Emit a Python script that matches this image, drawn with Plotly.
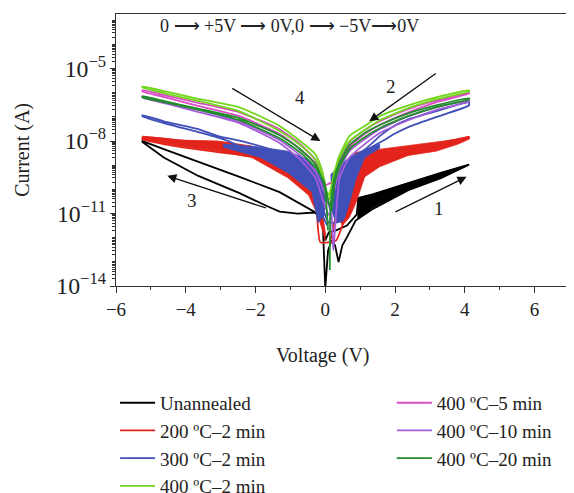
import plotly.graph_objects as go

SERIF = "Liberation Serif"

# ---------------- data (voltage in V, current in A) ----------------
UNANN_V = [0, 0.08, 0.18, 0.28, 0.38, 0.49, 0.62, 0.87, 1.38, 2.38, 3.33, 4.12,
           3.33, 2.38, 1.38, 0.95, 0.90, 0.62, 0.31, 0.10, 0,
           -0.10, -0.31, -0.79, -1.31, -1.66, -2.46, -3.64, -4.63, -5.24,
           -5.24, -4.63, -3.64, -2.46, -1.31, -0.72, -0.28, -0.07, 0]
UNANN_I = [8e-15, 3.0e-13, 7.7e-13, 4.8e-13, 9.8e-14, 4.8e-13, 1.03e-12, 5.1e-12, 1.6e-11, 9.3e-11, 3.0e-10, 1.07e-9,
           4.9e-10, 1.8e-10, 6.4e-11, 4.4e-11, 9.1e-12, 3.2e-12, 2.0e-12, 1.66e-12, 7.7e-13,
           6.9e-12, 1.1e-11, 1.0e-11, 1.2e-11, 2.0e-11, 7.0e-11, 3.6e-10, 2.1e-9, 9.1e-9,
           1.0e-8, 4.6e-9, 1.4e-9, 3.3e-10, 7.7e-11, 2.6e-11, 1.1e-11, 3.2e-12, 8e-15]
UNANN_BAND_V = [0.92, 1.38, 2.38, 3.33, 4.12, 4.12, 3.33, 2.38, 1.38, 0.92]
UNANN_BAND_I = [4.4e-11, 6.4e-11, 1.85e-10, 4.9e-10, 1.07e-9, 1.0e-9, 3.0e-10, 9.3e-11, 1.8e-11, 5.7e-12]

T200_V = [0.15, 0.31, 0.49, 0.69, 1.0, 1.56, 2.38, 3.17, 4.12,
          4.12, 3.17, 2.38, 1.56, 1.13, 0.87, 0.69, 0.49, 0.31,
          -0.14, -0.28, -0.55, -1.07, -2.0, -3.71, -4.63, -5.24,
          -5.24, -3.71, -2.11, -1.31, -0.72, -0.28, -0.10, 0]
T200_I = [7.7e-13, 8.3e-12, 5.8e-11, 2.5e-10, 9.6e-10, 2.3e-9, 4.6e-9, 7.5e-9, 1.45e-8,
          1.3e-8, 5.6e-9, 3.1e-9, 1.3e-9, 4.0e-10, 5.8e-11, 2.2e-11, 3.2e-12, 7.7e-13,
          6.4e-13, 3.6e-11, 1.5e-10, 5.4e-10, 2.1e-9, 4.6e-9, 7.5e-9, 1.2e-8,
          1.45e-8, 9.1e-9, 5.6e-9, 2.1e-9, 6.6e-10, 9.3e-11, 8.3e-12, 1.3e-12]
T200_BAND_R_V = [0.41, 0.87, 1.13, 1.56, 2.38, 3.17, 3.81, 4.12, 4.12, 3.81, 3.17, 2.38, 1.56, 1.13, 0.87, 0.69, 0.49, 0.36]
T200_BAND_R_I = [2.5e-10, 3.4e-9, 3.8e-9, 4.6e-9, 6.2e-9, 9.1e-9, 1.2e-8, 1.6e-8, 1.2e-8, 7.5e-9, 3.8e-9, 2.55e-9, 8.7e-10, 3.3e-10, 2.6e-11, 6.9e-12, 3.2e-12, 8.3e-12]
T200_BAND_L_V = [-5.24, -4.18, -3.07, -2.11, -1.07, -0.38, -0.14, 0, -0.21, -0.48, -1.07, -2.11, -3.07, -4.18, -5.24]
T200_BAND_L_I = [1.6e-8, 1.1e-8, 1.0e-8, 6.2e-9, 2.8e-9, 6.6e-10, 9.3e-11, 7.7e-13, 8.3e-12, 5.8e-11, 3.0e-10, 2.1e-9, 3.8e-9, 6.2e-9, 1.1e-8]

T300_V = [0.36, 0.54, 0.74, 1.0, 1.38, 1.56, 1.97, 2.38, 3.17, 4.12,
          4.12, 3.17, 2.38, 1.97, 1.64, 1.38, 1.0, 0.74, 0.49,
          0.10, -0.14, -0.38, -0.90, -1.59, -2.29, -3.07, -3.64, -4.63, -5.24,
          -5.24, -4.63, -3.64, -2.93, -2.46, -1.86, -1.07, -0.38, -0.14, 0.05]
T300_I = [5.1e-12, 3.6e-11, 4.0e-10, 2.8e-9, 9.1e-9, 1.6e-8, 4.2e-8, 8.0e-8, 1.7e-7, 4.0e-7,
          3.0e-7, 9.8e-8, 3.8e-8, 1.95e-8, 1.0e-8, 6.2e-9, 1.7e-9, 9.3e-11, 5.1e-12,
          4.2e-12, 3.6e-11, 2.5e-10, 1.7e-9, 4.6e-9, 9.1e-9, 1.6e-8, 3.1e-8, 6.6e-8, 1.17e-7,
          1.07e-7, 5.5e-8, 2.35e-8, 1.2e-8, 6.2e-9, 2.55e-9, 6.6e-10, 1.1e-10, 1.35e-11, 3.2e-12]
T300_BAND_R_V = [0.15, 0.36, 0.69, 1.13, 1.56, 1.56, 1.13, 0.87, 0.69, 0.54, 0.31, 0.18]
T300_BAND_R_I = [4.0e-10, 8.0e-10, 2.1e-9, 4.6e-9, 7.5e-9, 5.1e-9, 2.1e-9, 2.5e-10, 2.6e-11, 6.2e-12, 4.2e-12, 1.35e-11]
T300_BAND_L_V = [-2.93, -1.86, -1.07, -0.48, -0.14, 0, -0.03, -0.21, -0.38, -1.07, -1.86, -2.93]
T300_BAND_L_I = [7.5e-9, 5.6e-9, 3.8e-9, 1.7e-9, 3.3e-10, 9.3e-11, 8.3e-12, 4.2e-12, 7.7e-11, 4.9e-10, 2.1e-9, 5.6e-9]

T400_10_V = [0.26, 0.41, 0.69, 1.13, 1.56, 2.38, 3.17, 4.12,
             4.12, 3.17, 2.38, 1.56, 1.13, 0.69, 0.41, 0.23,
             0.18, -0.03, -0.28, -0.72, -1.31, -2.46, -3.71, -4.58, -5.24,
             -5.24, -4.58, -3.71, -2.46, -1.31, -0.72, -0.28, -0.07, 0.10]
T400_10_I = [9.3e-11, 6.6e-10, 3.8e-9, 1.2e-8, 3.1e-8, 1.07e-7, 2.5e-7, 4.8e-7,
             4.4e-7, 1.9e-7, 7.3e-8, 2.15e-8, 7.5e-9, 2.1e-9, 3.0e-10, 3.0e-13,
             8.3e-12, 7.7e-11, 5.4e-10, 2.55e-9, 1.1e-8, 6.6e-8, 2.1e-7, 4.0e-7, 7.1e-7,
             6.4e-7, 3.6e-7, 1.7e-7, 5.5e-8, 8.3e-9, 1.7e-9, 3.0e-10, 3.6e-11, 8.3e-12]

T400_5_V = [0.26, 0.41, 0.69, 1.13, 1.56, 2.38, 3.17, 4.12,
            4.12, 3.17, 2.38, 1.56, 1.13, 0.69, 0.41, 0.28,
            0, -0.10, -0.28, -0.72, -1.31, -2.46, -3.71, -4.58, -5.24,
            -5.24, -4.58, -3.71, -2.46, -1.31, -0.72, -0.28, -0.07, 0.03]
T400_5_I = [3.0e-10, 1.7e-9, 9.1e-9, 2.85e-8, 6.6e-8, 2.1e-7, 4.8e-7, 1.0e-6,
            9.3e-7, 4.0e-7, 1.55e-7, 4.6e-8, 1.95e-8, 5.6e-9, 1.07e-9, 2.5e-10,
            1.5e-10, 3.6e-10, 1.2e-9, 4.6e-9, 1.95e-8, 1.07e-7, 3.0e-7, 6.4e-7, 1.13e-6,
            1.25e-6, 7.7e-7, 4.0e-7, 1.55e-7, 3.1e-8, 7.5e-9, 1.7e-9, 4.0e-10, 5.8e-11]

T400_2_V = [0.10, 0.18, 0.26, 0.36, 0.49, 0.69, 1.13, 1.56, 2.38, 3.17, 4.12,
            4.12, 3.17, 2.38, 1.56, 1.13, 0.69, 0.41, 0.26, 0.15,
            0.08, -0.07, -0.28, -0.72, -1.31, -2.46, -3.71, -4.58, -5.24,
            -5.24, -4.58, -3.71, -2.46, -1.31, -0.72, -0.28, -0.10, 0]
T400_2_I = [3.6e-11, 9.3e-11, 4.0e-10, 1.7e-9, 4.6e-9, 1.6e-8, 4.2e-8, 1.07e-7, 3.0e-7, 6.4e-7, 1.25e-6,
            1.13e-6, 5.3e-7, 2.3e-7, 7.3e-8, 2.85e-8, 1.0e-8, 2.1e-9, 5.4e-10, 9.3e-11,
            5.8e-11, 3.0e-10, 1.7e-9, 6.8e-9, 2.6e-8, 1.7e-7, 4.8e-7, 9.3e-7, 1.65e-6,
            1.8e-6, 1.13e-6, 5.9e-7, 2.5e-7, 4.2e-8, 1.0e-8, 2.8e-9, 6.6e-10, 1.5e-10]

T400_20_V = [0.13, 0.15, 0.26, 0.41, 0.69, 1.13, 1.56, 2.38, 3.17, 4.12,
             4.12, 3.17, 2.38, 1.56, 1.13, 0.69, 0.41, 0.26, 0.18,
             0.08, -0.03, -0.28, -0.72, -1.31, -2.46, -3.71, -4.58, -5.24,
             -5.24, -4.58, -3.71, -2.46, -1.31, -0.72, -0.28, -0.03, 0.08]
T400_20_I = [4.6e-14, 2.2e-11, 3.0e-10, 1.3e-9, 6.8e-9, 2.15e-8, 4.6e-8, 1.4e-7, 3.0e-7, 5.9e-7,
             5.3e-7, 2.5e-7, 1.07e-7, 3.4e-8, 1.45e-8, 4.6e-9, 8.7e-10, 1.5e-10, 1.35e-11,
             3.6e-11, 2.0e-10, 8.0e-10, 3.4e-9, 1.3e-8, 7.3e-8, 2.1e-7, 4.0e-7, 6.4e-7,
             7.1e-7, 4.4e-7, 2.3e-7, 8.9e-8, 1.75e-8, 4.6e-9, 1.07e-9, 1.5e-10, 2.0e-12]

# sweep-direction arrows: (head V, head log10 I, tail V, tail log10 I)
ARROW_LABELS = ["1", "2", "3", "4"]
ARROW_HEAD_V = [4.05, 1.26, -4.53, -0.14]
ARROW_HEAD_LOGI = [-9.48, -7.18, -9.44, -8.0]
ARROW_TAIL_V = [1.97, 3.21, -1.66, -2.71]
ARROW_TAIL_LOGI = [-10.96, -5.16, -10.79, -5.78]
LABEL_V = [3.26, 1.87, -3.82, -0.72]
LABEL_LOGI = [-10.79, -5.74, -10.45, -6.19]

X_TICKS = [-6, -4, -2, 0, 2, 4, 6]

# ---------------- figure ----------------
fig = go.Figure()

def add_series(name, v, i, color, legend, rank, bands=(), smooth=True):
    for bv, bi in bands:
        fig.add_trace(go.Scatter(x=bv, y=bi, mode="lines", fill="toself",
                                 line=dict(color=color, width=0.8), fillcolor=color,
                                 showlegend=False, hoverinfo="skip"))
    line = dict(color=color, width=1.8)
    if smooth:
        line.update(shape="spline", smoothing=0.5)
    fig.add_trace(go.Scatter(x=v, y=i, mode="lines", name=name, line=line,
                             legend=legend, legendgroup=name, legendrank=rank))

add_series("Unannealed", UNANN_V, UNANN_I, "#000000", "legend", 1,
           [(UNANN_BAND_V, UNANN_BAND_I)], smooth=False)
add_series("200 ºC–2 min", T200_V, T200_I, "#e3241c", "legend", 2,
           [(T200_BAND_R_V, T200_BAND_R_I), (T200_BAND_L_V, T200_BAND_L_I)])
add_series("300 ºC–2 min", T300_V, T300_I, "#4050b8", "legend", 3,
           [(T300_BAND_R_V, T300_BAND_R_I), (T300_BAND_L_V, T300_BAND_L_I)])
add_series("400 ºC–10 min", T400_10_V, T400_10_I, "#a25bd9", "legend2", 6)
add_series("400 ºC–5 min", T400_5_V, T400_5_I, "#d94cc6", "legend2", 5)
add_series("400 ºC–2 min", T400_2_V, T400_2_I, "#72d61c", "legend", 4)
add_series("400 ºC–20 min", T400_20_V, T400_20_I, "#238c2c", "legend2", 7)

annotations = []
for k in range(len(ARROW_LABELS)):
    annotations.append(dict(x=ARROW_HEAD_V[k], y=ARROW_HEAD_LOGI[k],
                            ax=ARROW_TAIL_V[k], ay=ARROW_TAIL_LOGI[k],
                            xref="x", yref="y", axref="x", ayref="y",
                            text="", showarrow=True, arrowhead=2, arrowsize=1.4,
                            arrowwidth=1.3, arrowcolor="#111"))
    annotations.append(dict(x=LABEL_V[k], y=LABEL_LOGI[k], xref="x", yref="y",
                            text=ARROW_LABELS[k], showarrow=False,
                            xanchor="center", yanchor="middle",
                            font=dict(family=SERIF, size=19, color="#222")))

annotations.append(dict(x=0.373, y=0.956, xref="paper", yref="paper",
                        xanchor="center", yanchor="middle",
                        text="0 ⟶ +5V ⟶ 0V,0 ⟶ −5V⟶0V", showarrow=False,
                        font=dict(family=SERIF, size=18, color="#222")))
annotations.append(dict(x=0.444, y=-0.254, xref="paper", yref="paper",
                        xanchor="center", yanchor="middle",
                        text="Voltage (V)", showarrow=False,
                        font=dict(family=SERIF, size=20, color="#222")))
annotations.append(dict(x=-0.202, y=0.5, xref="paper", yref="paper",
                        xanchor="center", yanchor="middle",
                        text="Current (A)", showarrow=False, textangle=-90,
                        font=dict(family=SERIF, size=20, color="#222")))

legend_common = dict(font=dict(family=SERIF, size=19, color="#222"),
                     bgcolor="rgba(0,0,0,0)", tracegroupgap=0, itemwidth=35,
                     xanchor="left", yanchor="top", orientation="v")

# the page body adds an 8 px offset, so margins are 8 px smaller than the target layout
fig.update_layout(
    width=574, height=493, autosize=False,
    margin=dict(l=108, r=0, t=6, b=215, autoexpand=False),
    paper_bgcolor="white", plot_bgcolor="white",
    showlegend=True,
    legend=dict(x=-0.002, y=-0.360, **legend_common),
    legend2=dict(x=0.592, y=-0.360, **legend_common),
    annotations=annotations,
    font=dict(family=SERIF, color="#222"),
)
fig.update_xaxes(range=[-6, 7.36], tickvals=X_TICKS, showline=True, linecolor="#333",
                 linewidth=1.3, mirror=True, ticks="outside", ticklen=6, tickwidth=1.2,
                 tickcolor="#333", showgrid=False, zeroline=False,
                 tickfont=dict(family=SERIF, size=19, color="#222"),
                 minor=dict(dtick=1, ticks="outside", ticklen=3, tickcolor="#333"))
fig.update_yaxes(type="log", range=[-14, -2.74], tick0=-14, dtick=3, exponentformat="power",
                 showline=True, linecolor="#333", linewidth=1.3, ticks="outside",
                 ticklen=5, tickwidth=1.2, tickcolor="#333", showgrid=False, zeroline=False,
                 tickfont=dict(family=SERIF, size=19, color="#222"),
                 minor=dict(dtick="D1", ticks="outside", ticklen=3, tickcolor="#333"))

fig.write_html("out.html")
